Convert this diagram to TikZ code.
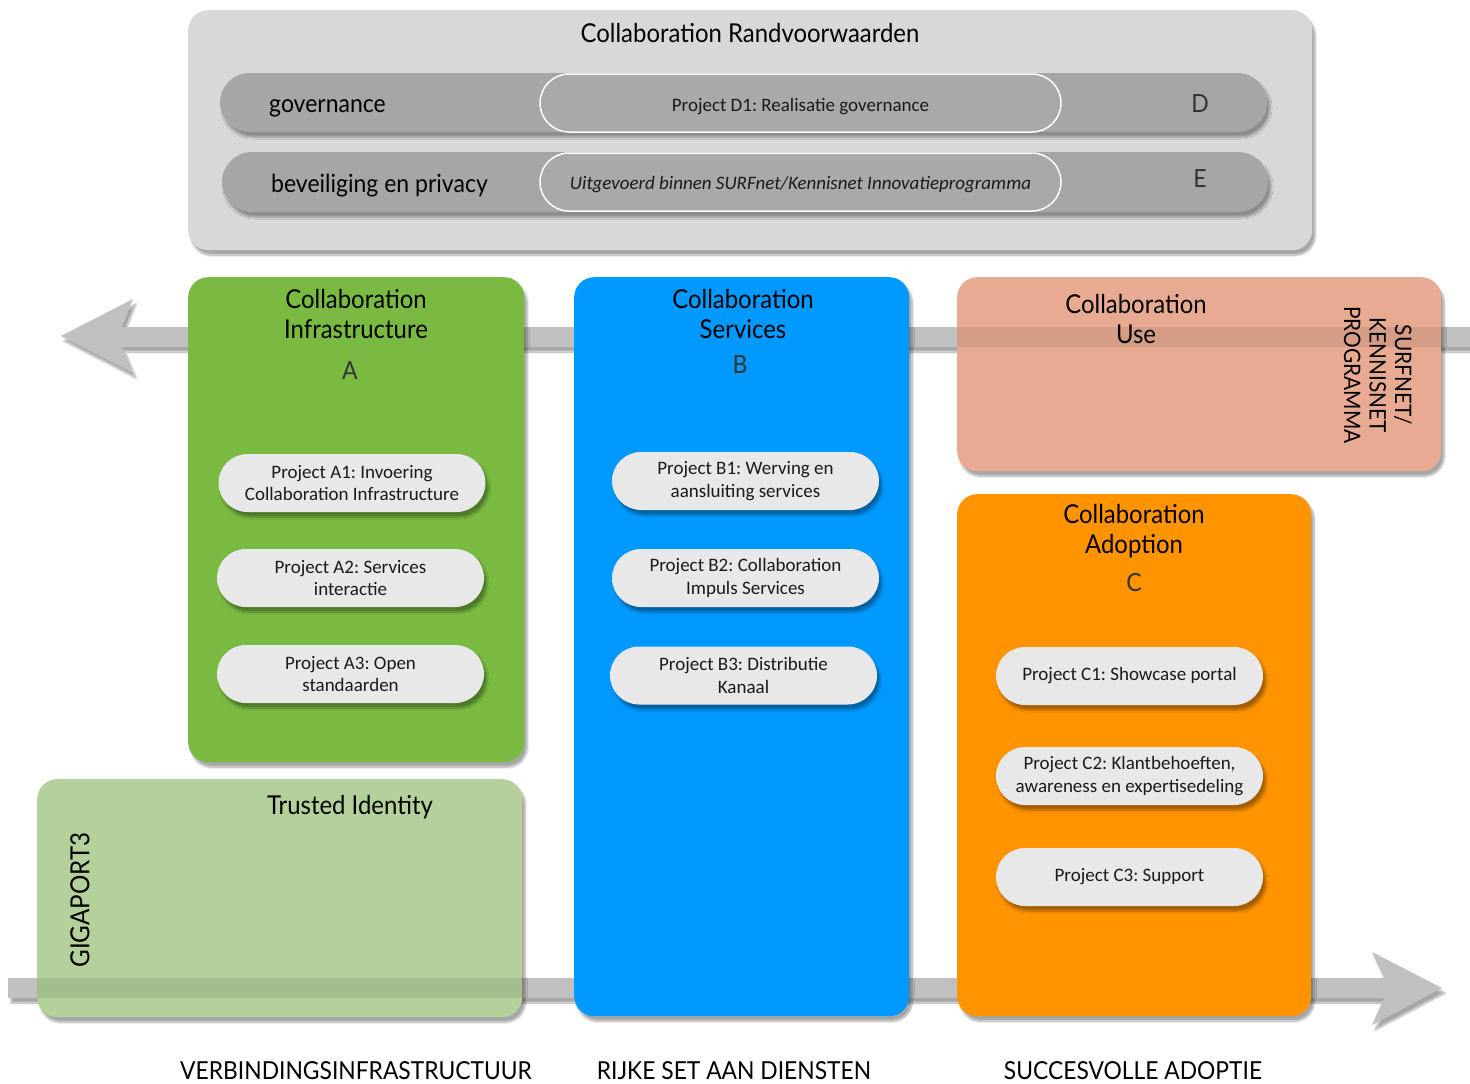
\documentclass[tikz,border=0pt]{standalone}
\usepackage{fontspec}
\setmainfont{Lato}
\newfontfamily\gillfont[FakeStretch=0.92]{Lato}
\newfontfamily\calfont{Carlito}
\usetikzlibrary{shadows.blur,shapes.misc}
\definecolor{panelgray}{HTML}{D8D8D8}
\definecolor{bargray}{HTML}{A6A6A6}
\definecolor{innergray}{HTML}{A9A9A9}
\definecolor{arrowgray}{HTML}{C0C0C0}
\definecolor{cgreen}{HTML}{78BB40}
\definecolor{cblue}{HTML}{0099FF}
\definecolor{corange}{HTML}{FF9300}
\definecolor{csalmon}{HTML}{E8AB91}
\definecolor{clightgreen}{HTML}{B4D19C}
\definecolor{pillfill}{HTML}{E8E8E8}
\definecolor{txt}{HTML}{1A1A1A}
\frenchspacing
\begin{document}
\frenchspacing
\begin{tikzpicture}[x=1pt,y=-1pt,
  softshadow/.style={blur shadow={shadow xshift=3pt,shadow yshift=-5pt,shadow blur steps=10,shadow opacity=35}},
  box/.style={draw=none,rounded corners=20pt,inner sep=0pt,anchor=north west,softshadow},
  pill/.style={rounded rectangle,draw=none,fill=pillfill,inner sep=0pt,minimum width=267pt,minimum height=58pt,
     align=center,font=\calfont\fontsize{19}{22.5}\selectfont\frenchspacing,text=txt,softshadow},
  bar/.style={rounded rectangle,draw=none,fill=bargray,inner sep=0pt,softshadow},
  innerpill/.style={rounded rectangle,draw=white,line width=1.5pt,fill=innergray,inner sep=0pt,minimum width=521pt,minimum height=58pt},
  innertext/.style={anchor=base,font=\calfont\fontsize{19}{22}\selectfont\frenchspacing,text=txt,inner sep=0pt},
  titletext/.style={align=center,font=\gillfont\fontsize{26}{30}\selectfont,text=black,inner sep=0pt},
  lettertext/.style={font=\gillfont\fontsize{25}{30}\selectfont,text=black!80,inner sep=0pt},
  rowtext/.style={anchor=base west,font=\gillfont\fontsize{25}{30}\selectfont,text=black,inner sep=0pt},
  captext/.style={font=\gillfont\fontsize{24.8}{28}\selectfont,text=black,inner sep=0pt},
  vtext/.style={align=center,font=\gillfont\fontsize{22.7}{25.5}\selectfont,text=black,inner sep=0pt}
]
\useasboundingbox (0,0) rectangle (1470,1084);

% top panel
\node[box,fill=panelgray,minimum width=1124pt,minimum height=240pt] (panel) at (188,10) {};
\node[titletext] (paneltitle) at (750,33) {Collaboration Randvoorwaarden};
\node[bar,minimum width=1047pt,minimum height=59pt] (bar1) at (743.5,102.5) {};
\node[bar,minimum width=1046pt,minimum height=60pt] (bar2) at (745,182) {};
\node[innerpill] (d1) at (800.5,103) {};
\node[innertext] (d1t) at (800.5,111) {Project D1: Realisatie governance};
\node[innerpill] (e1) at (800.5,182) {};
\node[innertext] (e1t) at (800.5,189.5) {\itshape Uitgevoerd binnen SURFnet/Kennisnet Innovatieprogramma};
\node[rowtext] (gov) at (269,112) {governance};
\node[rowtext] (sec) at (271,192) {beveiliging en privacy};
\node[lettertext] (lD) at (1200,104) {D};
\node[lettertext] (lE) at (1200,179) {E};

% arrows
\coordinate (topTip) at (61,336);
\fill[arrowgray,softshadow] (1470,327) -- (122,327) -- (133,299) -- (topTip) -- (133,373) -- (122,347) -- (1470,347) -- cycle;
\coordinate (botTail) at (8,988);
\coordinate (botTip) at (1442,988);
\fill[arrowgray,softshadow] (8,978) -- (1384,978) -- (1372,952) -- (botTip) -- (1372,1025) -- (1384,998) -- (8,998) -- cycle;

% column A
\node[box,fill=cgreen,minimum width=336pt,minimum height=485pt] (boxA) at (188,277) {};
\node[titletext] (tA) at (356,314) {Collaboration\\Infrastructure};
\node[lettertext] (lA) at (350,371) {A};
\node[pill] (a1) at (352,483) {Project A1: Invoering\\Collaboration Infrastructure};
\node[pill] (a2) at (350.5,578) {Project A2: Services\\interactie};
\node[pill] (a3) at (350.5,674) {Project A3: Open\\standaarden};

% column B
\node[box,fill=cblue,minimum width=335pt,minimum height=739pt] (boxB) at (574,277) {};
\node[titletext] (tB) at (743,314) {Collaboration\\Services};
\node[lettertext] (lB) at (740,365) {B};
\node[pill] (b1) at (745.5,481) {Project B1: Werving en\\aansluiting services};
\node[pill] (b2) at (745.5,578) {Project B2: Collaboration\\Impuls Services};
\node[pill] (b3) at (743.5,675.5) {Project B3: Distributie\\Kanaal};

% use box (arrow seen through it)
\node[box,fill=csalmon,minimum width=484pt,minimum height=194pt] (boxU) at (957,277) {};
\begin{scope}
  \clip[rounded corners=20pt] (957,277) rectangle (1441,471);
  \fill[black,opacity=0.08] (957,327) rectangle (1441,347);
\end{scope}
\node[titletext] (tU) at (1136,319) {Collaboration\\Use};
\node[vtext,rotate=-90] (surf) at (1378,375) {SURFNET/\\KENNISNET\\PROGRAMMA};

% column C
\node[box,fill=corange,minimum width=354pt,minimum height=522pt] (boxC) at (957,494) {};
\node[titletext] (tC) at (1134,531) {Collaboration\\Adoption};
\node[lettertext] (lC) at (1134,583) {C};
\node[pill] (c1) at (1129.5,676) {Project C1: Showcase portal};
\node[pill] (c2) at (1129.5,776) {Project C2: Klantbehoeften,\\awareness en expertisedeling};
\node[pill] (c3) at (1129.5,877) {Project C3: Support};

% trusted identity (arrow seen through it)
\node[box,fill=clightgreen,minimum width=485pt,minimum height=238pt] (boxT) at (37,779) {};
\begin{scope}
  \clip[rounded corners=20pt] (37,779) rectangle (522,1017);
  \fill[black,opacity=0.09] (37,978) rectangle (522,998);
\end{scope}
\node[titletext] (tT) at (350,807) {Trusted Identity};
\node[vtext,font=\gillfont\fontsize{26.3}{28}\selectfont,rotate=90] (giga) at (80,900) {GIGAPORT3};

% captions
\node[captext] (cap1) at (356,1071) {VERBINDINGSINFRASTRUCTUUR};
\node[captext] (cap2) at (734,1071) {RIJKE SET AAN DIENSTEN};
\node[captext] (cap3) at (1133,1071) {SUCCESVOLLE ADOPTIE};
\end{tikzpicture}
\end{document}
